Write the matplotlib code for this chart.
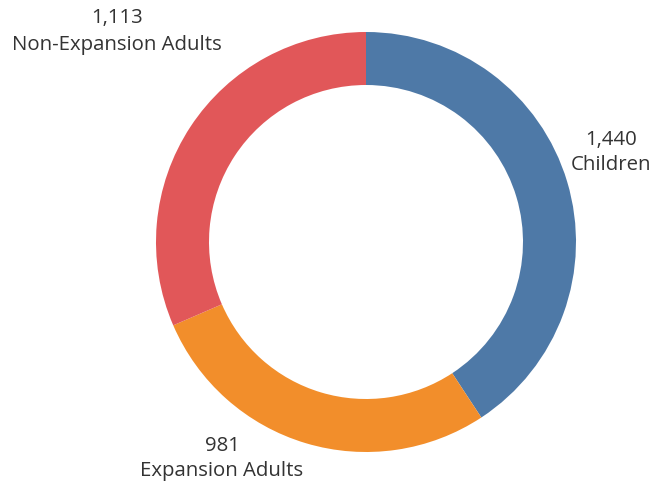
import matplotlib
matplotlib.use("Agg")
import matplotlib.pyplot as plt

categories = ["Children", "Expansion Adults", "Non-Expansion Adults"]
values = [1440, 981, 1113]
colors = ["#4e79a7", "#f28e2b", "#e15759"]

W, H = 657, 486
fig = plt.figure(figsize=(W / 100, H / 100), dpi=100)
ax = fig.add_axes([0, 0, 1, 1])

cx, cy = 366, H - 242
ax.pie(values, startangle=90, counterclock=False, radius=210, center=(cx, cy),
       colors=colors, wedgeprops=dict(width=53, edgecolor="none"), frame=True)
ax.set_xlim(0, W)
ax.set_ylim(0, H)
ax.axis("off")

# (x, y of value line, y of category line) in pixel coordinates from top
label_pos = {
    "Children": (611, 140, 165),
    "Expansion Adults": (222, 446, 471),
    "Non-Expansion Adults": (117, 18, 45),
}
for cat, v in zip(categories, values):
    x, y1, y2 = label_pos[cat]
    kw = dict(ha="center", va="center", fontsize=14.7, color="#333333", family="Open Sans")
    ax.text(x, H - y1, f"{v:,}", **kw)
    ax.text(x, H - y2, cat, **kw)

fig.savefig("out.png", dpi=100)
